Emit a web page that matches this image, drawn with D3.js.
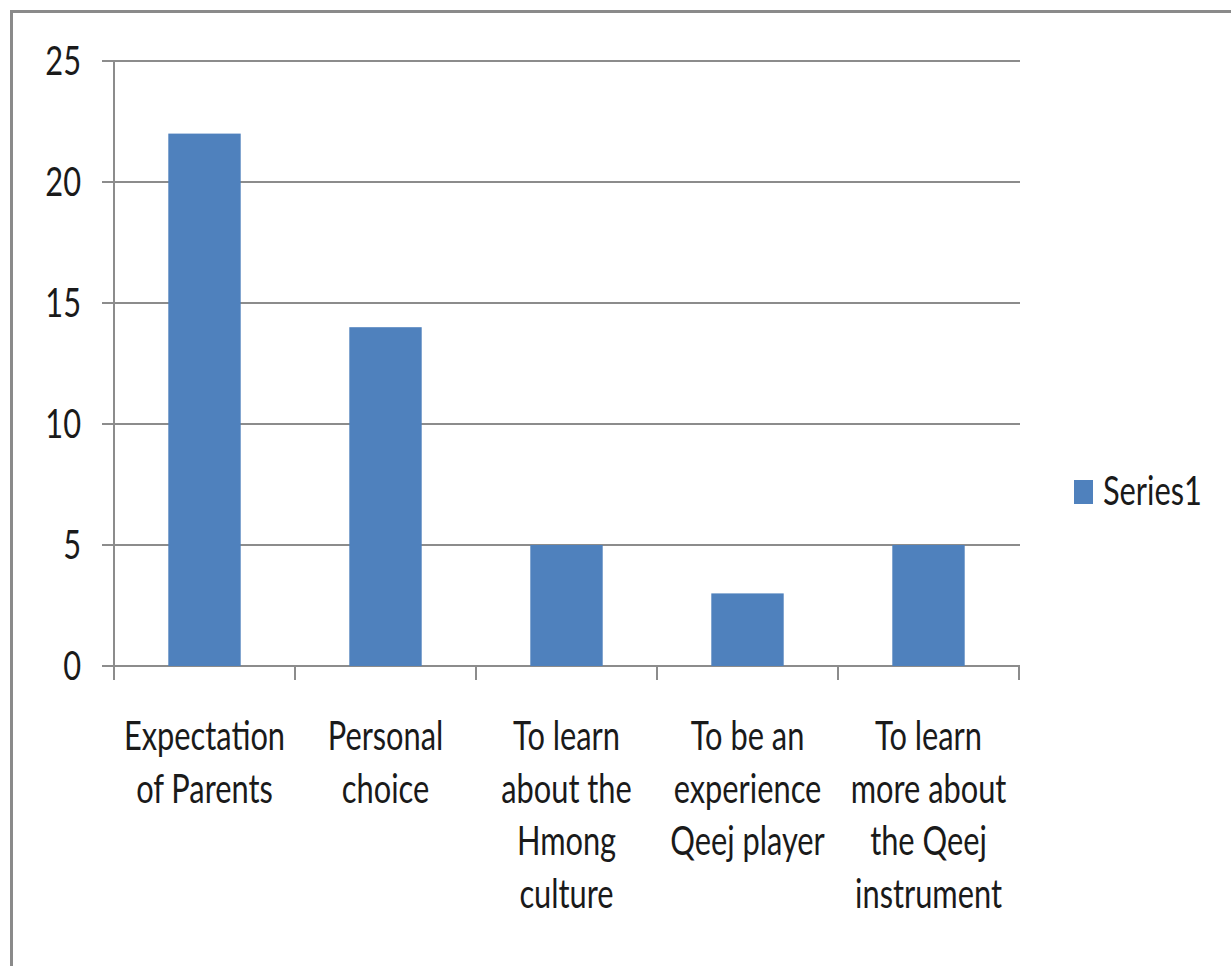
<!DOCTYPE html>
<html><head><meta charset="utf-8">
<script src="https://cdn.jsdelivr.net/npm/d3@7"></script>
<style>body{margin:0;background:#fff}svg{display:block}</style>
</head><body>
<svg id="c" width="1231" height="966"></svg>
<script>
const categories = [
  ["Expectation","of Parents"],
  ["Personal","choice"],
  ["To learn","about the","Hmong","culture"],
  ["To be an","experience","Qeej player"],
  ["To learn","more about","the Qeej","instrument"]
];
const values = [22, 14, 5, 3, 5];
const yTicks = [0, 5, 10, 15, 20, 25];
const seriesName = "Series1";

(function(){
const svg = d3.select("#c");
const FONT = "Lato, 'Open Sans', sans-serif";
const SX = 0.77; // horizontal squeeze of text
const grid = "#8c8c8c";
const barColor = "#4f81bd";

// outer border
svg.append("path").attr("d","M11.5,966 V11.5 H1231").attr("fill","none").attr("stroke","#8a8a8a").attr("stroke-width",3);

const pL = 114, pR = 1019, pT = 61, pB = 666;
const x = d3.scaleBand().domain(d3.range(categories.length)).range([pL,pR]).padding(0);
const y = d3.scaleLinear().domain([0,25]).range([pB,pT]);

// gridlines
svg.append("g").selectAll("line").data(yTicks).join("line")
  .attr("x1",pL-12).attr("x2",pR+1).attr("y1",d=>y(d)).attr("y2",d=>y(d))
  .attr("stroke",grid).attr("stroke-width",2);

// y axis line
svg.append("line").attr("x1",pL).attr("x2",pL).attr("y1",pT).attr("y2",pB+14).attr("stroke",grid).attr("stroke-width",2);
// category ticks
const bounds = d3.range(1, categories.length+1).map(i=> i<categories.length ? x(i) : x(categories.length-1)+x.bandwidth());
svg.append("g").selectAll("line").data(bounds).join("line")
  .attr("x1",d=>d).attr("x2",d=>d).attr("y1",pB).attr("y2",pB+14)
  .attr("stroke",grid).attr("stroke-width",2);

// bars
const bw = x.bandwidth()*0.4;
svg.append("g").selectAll("rect").data(values).join("rect")
  .attr("x",(d,i)=>x(i)+x.bandwidth()/2-bw/2).attr("width",bw)
  .attr("y",d=>y(d)).attr("height",d=>y(0)-y(d))
  .attr("fill",barColor);

function squeezedText(g, tx, ty, str, anchor){
  g.append("text").attr("transform",`translate(${tx},${ty}) scale(${SX},1)`)
   .attr("text-anchor",anchor).attr("font-family",FONT).attr("font-size",40).attr("fill","#1a1a1a").text(str);
}

// y tick labels
const yl = svg.append("g");
yTicks.forEach(t=>squeezedText(yl, 81, y(t)+14, String(t), "end"));

// category labels
const cl = svg.append("g");
categories.forEach((lines,i)=>{
  const cx = x(i)+x.bandwidth()/2;
  lines.forEach((ln,j)=>squeezedText(cl, cx, 750 + j*52.5, ln, "middle"));
});

// legend
svg.append("rect").attr("x",1074).attr("y",480).attr("width",19).attr("height",24).attr("fill",barColor);
squeezedText(svg, 1103, 505, seriesName, "start");
})();
</script>
</body></html>
